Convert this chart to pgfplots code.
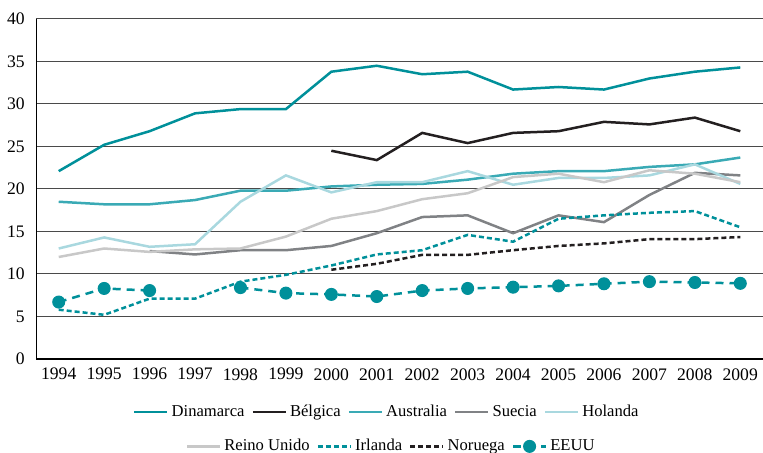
\documentclass[border=0pt]{standalone}
\usepackage{fontspec}
\setmainfont{Liberation Serif}
\usepackage{pgfplots}
\pgfplotsset{compat=1.18}
\definecolor{dinam}{HTML}{00909A}
\definecolor{belg}{HTML}{231F20}
\definecolor{austr}{HTML}{3AAAB5}
\definecolor{suec}{HTML}{808285}
\definecolor{hol}{HTML}{A9D8DF}
\definecolor{reino}{HTML}{C8C8C8}
\definecolor{gridc}{HTML}{4A4A4A}

\pgfplotsset{
  every axis/.append style={
    scale only axis, width=363.5pt, height=170pt,
    xmin=1993.5, xmax=2009.5, ymin=0, ymax=40,
    font=\fontsize{8.8}{10}\selectfont,
  },
  linelegend/.style={legend image code/.code={
    \draw[##1,mark repeat=2,mark phase=2] plot coordinates {(0pt,0pt) (8.25pt,0pt) (16.5pt,0pt)};}},
  lstyle/.style={line width=1.25pt},
  legstyle/.style={draw=none, fill=none, anchor=center,
    font=\fontsize{8.3}{10}\selectfont,
    /tikz/every odd column/.append style={column sep=-0.5pt},
    /tikz/every even column/.append style={column sep=1.5pt}},
}

\begin{document}
\begin{tikzpicture}
\begin{axis}[
  name=main,
  axis x line=bottom, axis y line=left,
  x axis line style={-, line width=0.8pt, black},
  y axis line style={-, line width=0.5pt, black},
  xtick={1994,...,2009}, ytick={0,5,...,40},
  tick style={draw=none},
  /pgf/number format/1000 sep={},
  /pgf/number format/assume math mode=true,
  xticklabel style={yshift=1pt},
  ymajorgrids, grid style={gridc, line width=0.5pt},
  linelegend,
  legend columns=5,
  legend style={legstyle, at={(0.484,-0.156)}},
]
\addplot[lstyle, dinam] coordinates {(1994,22.1) (1995,25.2) (1996,26.8) (1997,28.9) (1998,29.4) (1999,29.4) (2000,33.8) (2001,34.5) (2002,33.5) (2003,33.8) (2004,31.7) (2005,32.0) (2006,31.7) (2007,33.0) (2008,33.8) (2009,34.3)};
\addlegendentry{Dinamarca}
\addplot[lstyle, belg] coordinates {(2000,24.5) (2001,23.4) (2002,26.6) (2003,25.4) (2004,26.6) (2005,26.8) (2006,27.9) (2007,27.6) (2008,28.4) (2009,26.8)};
\addlegendentry{Bélgica}
\addplot[lstyle, austr] coordinates {(1994,18.5) (1995,18.2) (1996,18.2) (1997,18.7) (1998,19.8) (1999,19.8) (2000,20.3) (2001,20.5) (2002,20.6) (2003,21.1) (2004,21.8) (2005,22.1) (2006,22.1) (2007,22.6) (2008,22.9) (2009,23.7)};
\addlegendentry{Australia}
\addplot[lstyle, suec] coordinates {(1996,12.7) (1997,12.3) (1998,12.8) (1999,12.8) (2000,13.3) (2001,14.8) (2002,16.7) (2003,16.9) (2004,14.8) (2005,16.9) (2006,16.1) (2007,19.3) (2008,21.9) (2009,21.6)};
\addlegendentry{Suecia}
\addplot[lstyle, hol] coordinates {(1994,13.0) (1995,14.3) (1996,13.2) (1997,13.5) (1998,18.5) (1999,21.6) (2000,19.6) (2001,20.8) (2002,20.8) (2003,22.1) (2004,20.5) (2005,21.3) (2006,21.3) (2007,21.6) (2008,22.9) (2009,20.6)};
\addlegendentry{Holanda}
\addplot[lstyle, reino, forget plot] coordinates {(1994,12.0) (1995,13.0) (1996,12.6) (1997,12.9) (1998,13.0) (1999,14.4) (2000,16.5) (2001,17.4) (2002,18.8) (2003,19.5) (2004,21.4) (2005,21.8) (2006,20.8) (2007,22.2) (2008,21.8) (2009,20.8)};
\addplot[lstyle, dinam, dash pattern=on 2.5pt off 1.5pt, forget plot] coordinates {(1994,5.8) (1995,5.2) (1996,7.1) (1997,7.1) (1998,9.1) (1999,9.9) (2000,11.0) (2001,12.3) (2002,12.8) (2003,14.6) (2004,13.8) (2005,16.5) (2006,16.9) (2007,17.2) (2008,17.4) (2009,15.5)};
\addplot[lstyle, belg, dash pattern=on 2.5pt off 1.5pt, forget plot] coordinates {(2000,10.5) (2001,11.2) (2002,12.25) (2003,12.25) (2004,12.8) (2005,13.3) (2006,13.6) (2007,14.1) (2008,14.1) (2009,14.35)};
\addplot[lstyle, dinam, dash pattern=on 4pt off 3pt, mark=*, mark size=3pt, mark options={solid, line width=0.5pt}, unbounded coords=jump, forget plot] coordinates {(1994,6.7) (1995,8.3) (1996,8.05) (1997,nan) (1998,8.4) (1999,7.75) (2000,7.6) (2001,7.35) (2002,8.05) (2003,8.3) (2004,8.45) (2005,8.6) (2006,8.85) (2007,9.1) (2008,9.0) (2009,8.9)};
\end{axis}
\begin{axis}[
  hide axis,
  linelegend,
  legend columns=4,
  legend style={legstyle, at={(0.49,-0.257)}},
]
\addlegendimage{lstyle, reino}
\addlegendentry{Reino Unido}
\addlegendimage{lstyle, dinam, dash pattern=on 2.5pt off 1.5pt}
\addlegendentry{Irlanda}
\addlegendimage{lstyle, belg, dash pattern=on 2.5pt off 1.5pt}
\addlegendentry{Noruega}
\addlegendimage{lstyle, dinam, dash pattern=on 4pt off 3pt, mark=*, mark size=3pt, mark options={solid, line width=0.5pt}}
\addlegendentry{EEUU}
\end{axis}
\pgfresetboundingbox
\path ([xshift=-18pt,yshift=-47pt]main.south west) rectangle ([yshift=9.5pt]main.north east);
\end{tikzpicture}
\end{document}
